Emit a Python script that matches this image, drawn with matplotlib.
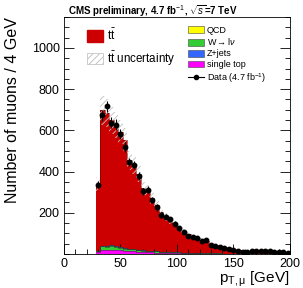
import numpy as np
import matplotlib
matplotlib.use('Agg')
import matplotlib.pyplot as plt
from matplotlib.patches import Patch
from matplotlib.lines import Line2D
from matplotlib.ticker import MultipleLocator

plt.rcParams['font.family'] = ['Liberation Sans', 'DejaVu Sans']
plt.rcParams['mathtext.fontset'] = 'custom'
plt.rcParams['mathtext.rm'] = 'Liberation Sans'
plt.rcParams['mathtext.it'] = 'Liberation Sans:italic'
plt.rcParams['hatch.linewidth'] = 0.6

# 4 GeV bins from 28 to 200 GeV
edges = np.arange(28, 201, 4)

data = [337, 673, 718, 638, 628, 584, 520, 447, 431, 379, 305, 313, 262, 226,
        190, 182, 168, 146, 125, 105, 86, 82, 79, 65, 70, 45, 37, 33, 28, 24,
        20, 15, 12, 10, 14, 15, 17, 14, 13, 12, 10, 8, 7]

mc_total = [340, 697, 684, 649, 625, 592, 555, 455, 432, 387, 318, 305, 270, 238,
            205, 180, 160, 150, 128, 112, 95, 85, 78, 70, 62, 50, 42, 36, 32, 28,
            24, 20, 18, 16, 14, 13, 12, 11, 10, 9, 8, 7, 6]

singletop = [10, 20, 21, 21, 20, 18, 16, 14, 13, 12, 10, 9, 8, 7, 6, 6, 5, 5, 4, 4,
             3, 3, 3, 2, 2, 2, 2, 2, 1, 1, 1, 1, 1, 1, 1, 1, 1, 1, 1, 0, 0, 0, 0]
wjets = [6, 18, 14, 20, 16, 12, 10, 9, 12, 8, 7, 6, 5, 9, 4, 4, 3, 3, 8, 2,
         2, 2, 2, 2, 1, 1, 1, 1, 1, 1, 1, 1, 1, 1, 1, 1, 1, 0, 0, 0, 0, 0, 0]
zjets = [1, 3, 2, 2, 3, 2, 2, 1, 1, 1, 1, 1, 1, 1, 1, 1, 1, 0, 0, 0,
         0, 0, 0, 0, 0, 0, 0, 0, 0, 0, 0, 0, 0, 0, 0, 0, 0, 0, 0, 0, 0, 0, 0]
qcd = [0] * 43

unc_frac = 0.10

fig = plt.figure(figsize=(3.03, 2.88), dpi=100)
ax = fig.add_axes([0.211, 0.118, 0.746, 0.823])

base = np.zeros(len(data))
for vals, col in [(singletop, '#ff00ff'), (wjets, '#33cc33'), (zjets, '#3366ff'), (qcd, '#ffff00')]:
    vals = np.array(vals, dtype=float)
    ax.stairs(base + vals, edges, baseline=base, fill=True, color=col, zorder=2)
    ax.stairs(base + vals, edges, baseline=None, color='#333333', lw=0.4, zorder=3)
    base = base + vals

mc_total = np.array(mc_total, dtype=float)
ax.stairs(mc_total, edges, baseline=base, fill=True, color='#cc0000', zorder=1)
ax.stairs(mc_total, edges, baseline=None, color='#660000', lw=0.4, zorder=3)

# uncertainty band
ax.stairs(mc_total * (1 + unc_frac), edges, baseline=mc_total * (1 - unc_frac), fill=True,
          facecolor='none', edgecolor='#c0c0c0', hatch='/////', lw=0, zorder=4)

centers = 0.5 * (edges[:-1] + edges[1:])
data = np.array(data, dtype=float)
ax.errorbar(centers, data, yerr=np.sqrt(data), fmt='o', color='black', ms=3.2,
            elinewidth=0.8, capsize=0, zorder=5)

ax.set_xlim(0, 200)
ax.set_ylim(0, 1150)
ax.set_yticks([200, 400, 600, 800, 1000])
ax.set_xticks([0, 50, 100, 150, 200])
ax.xaxis.set_minor_locator(MultipleLocator(10))
ax.yaxis.set_minor_locator(MultipleLocator(50))
ax.tick_params(which='both', direction='in', right=True, labelsize=9, width=0.6)
ax.tick_params(which='major', length=7, pad=3)
ax.tick_params(which='minor', length=3.5)
for s in ax.spines.values():
    s.set_linewidth(0.6)

ax.set_ylabel('Number of muons / 4 GeV', fontsize=11.5, loc='top')
ax.yaxis.set_label_coords(-0.195, 1.0)
ax.set_xlabel(r'p$_{\mathrm{T,\mu}}$ [GeV]', fontsize=11, loc='right')
ax.xaxis.set_label_coords(1.0, -0.068)

fig.text(0.225, 0.962, r'CMS preliminary, 4.7 fb$^{-1}$, $\sqrt{s}$=7 TeV',
         fontsize=7, fontweight='bold', va='center', ha='left')

tt = r'$\mathrm{t\bar{t}}$'
leg1 = ax.legend([Patch(facecolor='#cc0000', edgecolor='#cc0000'),
                  Patch(facecolor='white', edgecolor='#bbbbbb', hatch='/////', lw=0.5)],
                 [tt, tt + ' uncertainty'],
                 loc='upper left', bbox_to_anchor=(0.065, 0.99), frameon=False,
                 fontsize=8.4, handlelength=1.4, handleheight=1.15, labelspacing=0.55,
                 handletextpad=0.3, borderpad=0.2)
ax.add_artist(leg1)

h2 = [Patch(facecolor='#ffff00', edgecolor='#444444', lw=0.4),
      Patch(facecolor='#33cc33', edgecolor='#444444', lw=0.4),
      Patch(facecolor='#3366ff', edgecolor='#444444', lw=0.4),
      Patch(facecolor='#ff00ff', edgecolor='#444444', lw=0.4),
      Line2D([], [], color='black', marker='o', ms=3, lw=0.8)]
l2 = ['QCD', r'W$\rightarrow$l$\nu$', 'Z+jets', 'single top', r'Data (4.7 fb$^{-1}$)']
ax.legend(h2, l2, loc='upper left', bbox_to_anchor=(0.52, 0.99), frameon=False,
          fontsize=6.5, handlelength=1.8, handleheight=0.8, labelspacing=0.2,
          handletextpad=0.3, borderpad=0.2)

fig.savefig('out.png', dpi=100)
